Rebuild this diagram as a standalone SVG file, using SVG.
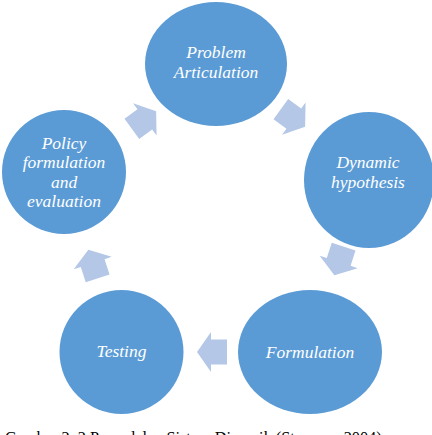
<svg xmlns="http://www.w3.org/2000/svg" width="432" height="435" viewBox="0 0 432 435">
<defs>
<style>
.node{fill:#5B9BD5;}
.lbl{fill:#FFFFFF;font-family:"Liberation Serif","Times New Roman",serif;font-style:italic;font-size:17.5px;text-anchor:middle;}
.arr{fill:#B4C7E7;}
.cap{fill:#000000;font-family:"Liberation Serif","Times New Roman",serif;font-size:16.3px;}
</style>
<path id="arrowShape" d="M15,0 L1,-20 L1,-12.5 L-15,-12.5 L-15,12.5 L1,12.5 L1,20 Z"/>
</defs>
<rect width="432" height="435" fill="#FFFFFF"/>
<g id="connectors">
<use href="#arrowShape" class="arr" transform="translate(293,118) rotate(36)"/>
<use href="#arrowShape" class="arr" transform="translate(339,261) rotate(108)"/>
<use href="#arrowShape" class="arr" transform="translate(212,352) rotate(180)"/>
<use href="#arrowShape" class="arr" transform="translate(93,264) rotate(-108)"/>
<use href="#arrowShape" class="arr" transform="translate(144,120) rotate(-36)"/>
</g>
<g id="problem">
<ellipse class="node" cx="216" cy="64" rx="71" ry="62"/>
<text class="lbl" x="216" y="58">Problem</text>
<text class="lbl" x="216" y="78">Articulation</text>
</g>
<g id="dynamic">
<ellipse class="node" cx="369" cy="180" rx="65" ry="68"/>
<text class="lbl" x="368" y="168">Dynamic</text>
<text class="lbl" x="368" y="188">hypothesis</text>
</g>
<g id="formulation">
<ellipse class="node" cx="310" cy="352" rx="72" ry="62"/>
<text class="lbl" x="310" y="358">Formulation</text>
</g>
<g id="testing">
<ellipse class="node" cx="121.5" cy="352" rx="62" ry="62"/>
<text class="lbl" x="121.5" y="357">Testing</text>
</g>
<g id="policy">
<ellipse class="node" cx="64" cy="172" rx="62" ry="62"/>
<text class="lbl" x="64" y="149">Policy</text>
<text class="lbl" x="64" y="168">formulation</text>
<text class="lbl" x="64" y="188">and</text>
<text class="lbl" x="64" y="207">evaluation</text>
</g>
<text class="cap" x="5" y="443">Gambar 2. 2 Pemodelan Sistem Dinamik (Sterman, 2004)</text>
</svg>
